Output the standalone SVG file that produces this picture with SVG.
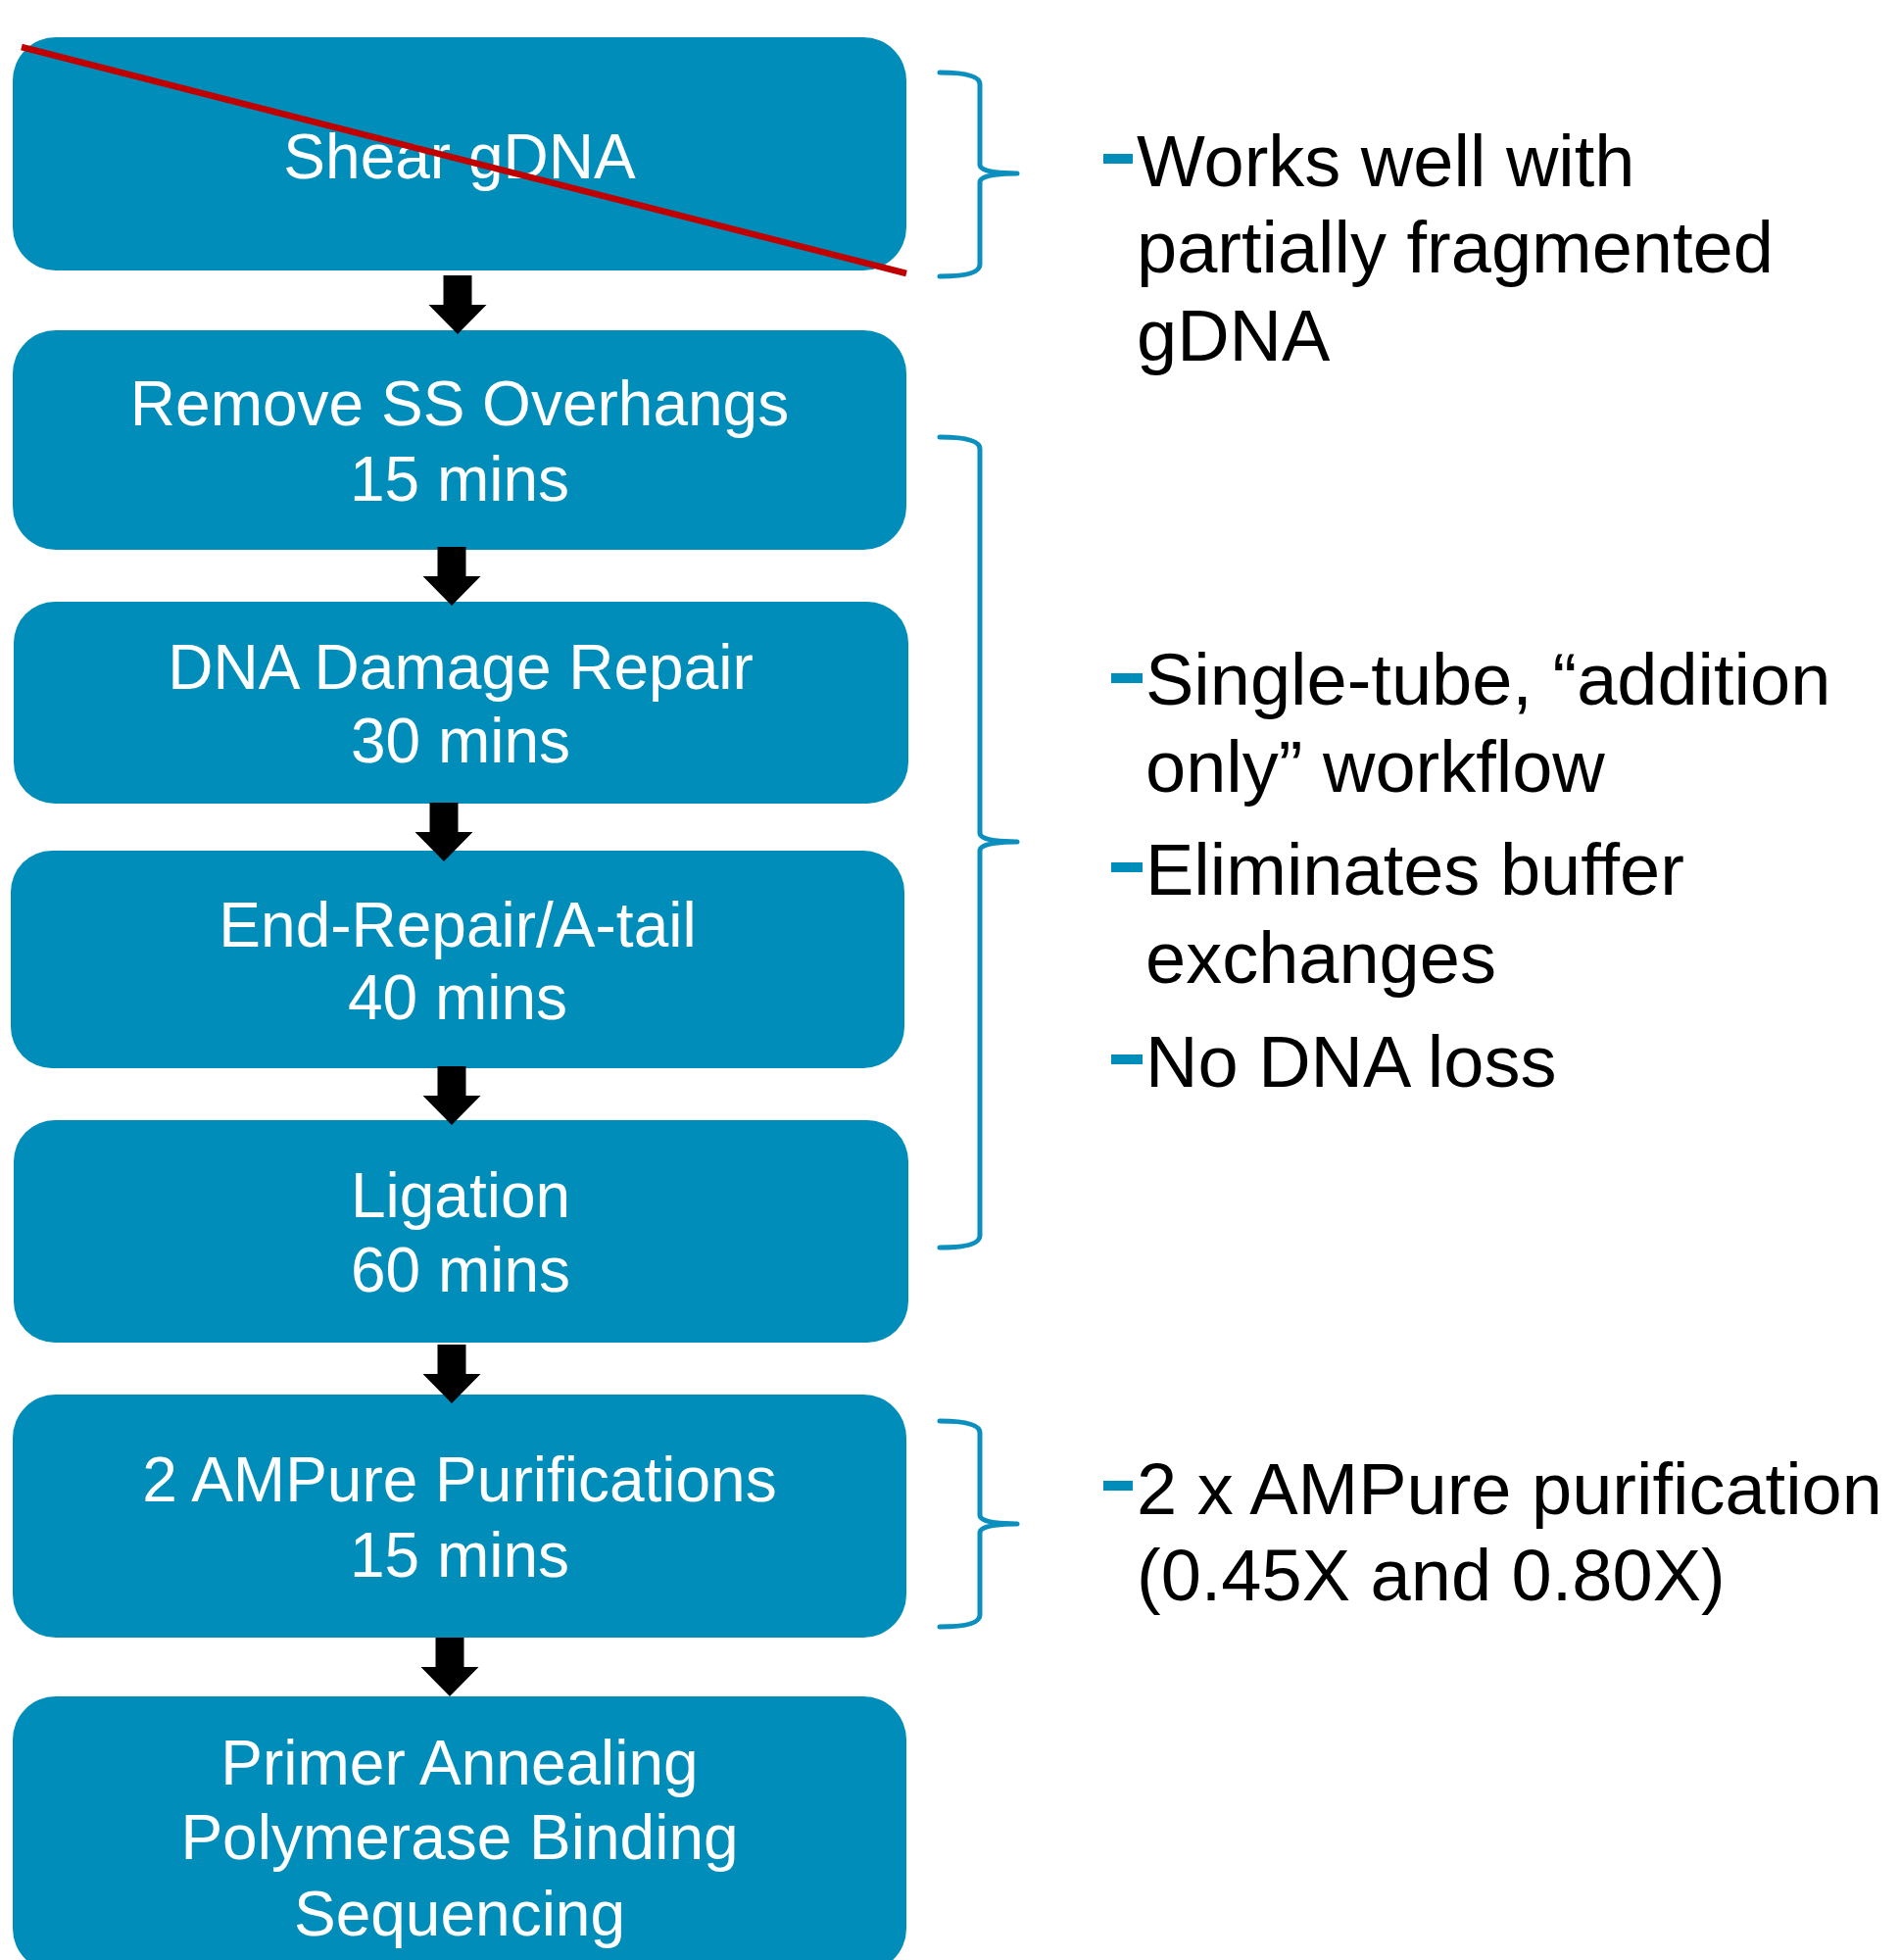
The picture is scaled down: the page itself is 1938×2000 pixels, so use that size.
<svg xmlns="http://www.w3.org/2000/svg" width="1938" height="2000" viewBox="0 0 1938 2000">
  <style>
    .step rect { fill: #008DB9; }
    .step text { fill: #FFFFFF; font-family: "Liberation Sans", Arial, sans-serif; font-size: 64px; text-anchor: middle; }
    .note text { fill: #000000; font-family: "Liberation Sans", Arial, sans-serif; font-size: 74px; }
    .note .dash { fill: #008DB9; }
    .brace { fill: none; stroke: #0B8FBF; stroke-width: 5; stroke-linecap: round; stroke-linejoin: round; }
    .arrow { fill: #000000; }
  </style>
  <defs>
    <!-- block arrow pointing down, tip at origin -->
    <path id="down" d="M-14.5,-60 H14.5 V-30 H29.5 L0,0 L-29.5,-30 H-14.5 Z"/>
  </defs>

  <rect width="1938" height="2000" fill="#FFFFFF"/>

  <!-- process steps -->
  <g id="step-shear" class="step">
    <rect x="13" y="38" width="912" height="238" rx="44" ry="44"/>
    <text x="469" y="182">Shear gDNA</text>
  </g>
  <g id="step-overhangs" class="step">
    <rect x="13" y="337" width="912" height="224" rx="44" ry="44"/>
    <text x="469" y="434">Remove SS Overhangs</text>
    <text x="469" y="511">15 mins</text>
  </g>
  <g id="step-damage" class="step">
    <rect x="14" y="614" width="913" height="206" rx="42" ry="42"/>
    <text x="470" y="703">DNA Damage Repair</text>
    <text x="470" y="778">30 mins</text>
  </g>
  <g id="step-endrepair" class="step">
    <rect x="11" y="868" width="912" height="222" rx="42" ry="42"/>
    <text x="467" y="966">End-Repair/A-tail</text>
    <text x="467" y="1040">40 mins</text>
  </g>
  <g id="step-ligation" class="step">
    <rect x="14" y="1143" width="913" height="227" rx="42" ry="42"/>
    <text x="470" y="1242">Ligation</text>
    <text x="470" y="1318">60 mins</text>
  </g>
  <g id="step-ampure" class="step">
    <rect x="13" y="1423" width="912" height="248" rx="44" ry="44"/>
    <text x="469" y="1532">2 AMPure Purifications</text>
    <text x="469" y="1609">15 mins</text>
  </g>
  <g id="step-sequencing" class="step">
    <rect x="13" y="1731" width="912" height="281" rx="44" ry="44"/>
    <text x="469" y="1821">Primer Annealing</text>
    <text x="469" y="1897">Polymerase Binding</text>
    <text x="469" y="1975">Sequencing</text>
  </g>

  <!-- strike-through on the skipped shearing step -->
  <line id="strike" x1="22" y1="48" x2="925" y2="279" stroke="#C00000" stroke-width="6.5"/>

  <!-- connectors between steps -->
  <g id="connectors" class="arrow">
    <use href="#down" x="467" y="341"/>
    <use href="#down" x="461" y="618"/>
    <use href="#down" x="453" y="879"/>
    <use href="#down" x="461" y="1148"/>
    <use href="#down" x="461" y="1432"/>
    <use href="#down" x="459" y="1731"/>
  </g>

  <!-- braces grouping steps -->
  <g id="braces" class="brace">
    <path d="M959,74 Q1000,74 1000,86 L1000,168 Q1000,177 1038,177 Q1000,177 1000,186 L1000,270 Q1000,282 959,282"/>
    <path d="M959,446 Q1000,446 1000,458 L1000,850 Q1000,859 1038,859 Q1000,859 1000,868 L1000,1261 Q1000,1273 959,1273"/>
    <path d="M959,1450 Q1000,1450 1000,1462 L1000,1546 Q1000,1555 1038,1555 Q1000,1555 1000,1564 L1000,1648 Q1000,1660 959,1660"/>
  </g>

  <!-- notes beside the braces -->
  <g id="note-shear" class="note">
    <rect class="dash" x="1126" y="157" width="30" height="10"/>
    <text x="1160" y="190">Works well with</text>
    <text x="1160" y="278">partially fragmented</text>
    <text x="1160" y="368">gDNA</text>
  </g>
  <g id="note-singletube" class="note">
    <rect class="dash" x="1134" y="687" width="32" height="10"/>
    <text x="1169" y="719">Single-tube, “addition</text>
    <text x="1169" y="808">only” workflow</text>
    <rect class="dash" x="1134" y="880" width="32" height="10"/>
    <text x="1169" y="913">Eliminates buffer</text>
    <text x="1169" y="1003">exchanges</text>
    <rect class="dash" x="1134" y="1076" width="32" height="10"/>
    <text x="1169" y="1109">No DNA loss</text>
  </g>
  <g id="note-ampure" class="note">
    <rect class="dash" x="1126" y="1511" width="30" height="10"/>
    <text x="1160" y="1545">2 x AMPure purification</text>
    <text x="1160" y="1633">(0.45X and 0.80X)</text>
  </g>
</svg>
